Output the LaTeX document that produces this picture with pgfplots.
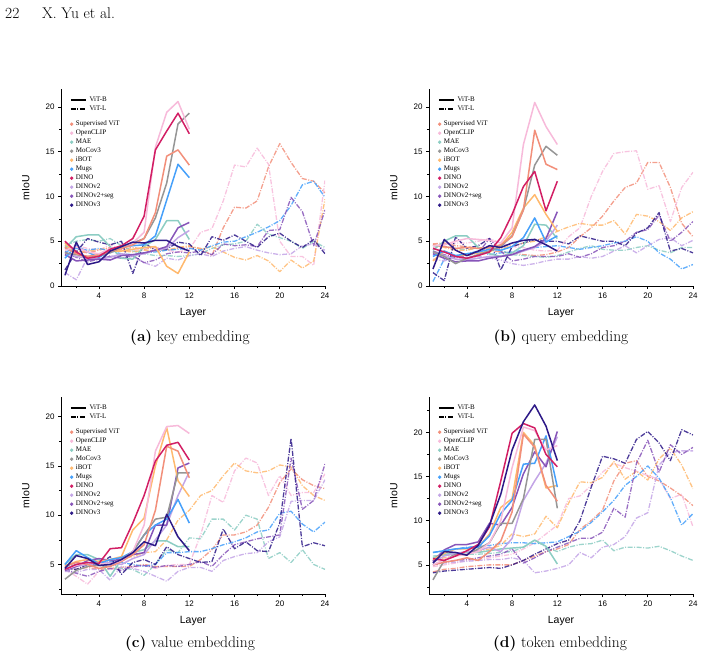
\documentclass[border=0pt]{standalone}
\usepackage{fontspec}
\usepackage{pgfplots}
\usepackage{pgfplotstable}
\pgfplotsset{compat=1.18}
\setsansfont{Liberation Sans}
\newfontfamily\lserif{Liberation Serif}
\newcommand\tickfont{\sffamily\fontsize{8}{9}\selectfont}
\newcommand\labfont{\sffamily\fontsize{10.5}{12}\selectfont}
\newcommand\legfont{\lserif\fontsize{7}{8}\selectfont}

\definecolor{cSup}{RGB}{242,143,122}
\definecolor{cClip}{RGB}{247,186,218}
\definecolor{cMAE}{RGB}{140,205,195}
\definecolor{cMoco}{RGB}{150,150,150}
\definecolor{cIbot}{RGB}{255,185,110}
\definecolor{cMugs}{RGB}{70,160,250}
\definecolor{cDino}{RGB}{210,30,100}
\definecolor{cDvtwo}{RGB}{195,165,230}
\definecolor{cDvtwos}{RGB}{135,85,185}
\definecolor{cDvthree}{RGB}{45,25,135}

% ---------------- (a) key embedding ----------------
\pgfplotstableread{
L sup clip mae moco ibot mugs dino dv2 dv2s dv3
1  4.3  4.0 4.2  3.7 4.8  3.1  5.0 3.6 3.5 1.2
2  3.6  4.4 5.5  3.5 3.6  4.5  3.8 3.3 2.8 4.9
3  3.3  3.8 5.7  3.3 3.2  3.8  3.1 3.1 2.9 2.4
4  3.5  3.6 5.7  3.4 3.4  3.2  3.3 3.0 3.0 2.7
5  3.9  4.2 4.4  3.7 3.9  3.9  4.1 3.2 2.9 3.9
6  4.2  4.4 3.1  4.3 3.9  4.4  4.5 3.6 3.4 4.4
7  4.6  4.8 3.0  4.8 4.1  4.5  5.3 3.4 3.5 4.9
8  5.3  6.0 4.4  5.3 4.3  4.6  7.8 3.6 3.7 4.8
9  8.2 15.5 5.2  7.6 4.4  5.6 15.2 4.0 4.0 5.1
10 14.5 19.4 7.3 11.5 2.2  9.6 17.3 4.2 4.4 5.1
11 15.2 20.6 7.3 18.1 1.4 13.6 19.3 5.4 6.5 4.4
12 13.5 17.5 5.2 19.3 3.8 12.1 17.0 6.2 7.1 3.9
}\keyB
\pgfplotstableread{
L sup clip mae ibot mugs dv2 dv2s dv3
1  4.4  4.2 4.5 4.5 3.8 1.5 3.8 1.8
2  3.9  4.5 5.0 3.8 4.2 0.7 3.2 3.8
3  3.7  4.2 5.2 3.9 4.0 3.2 2.7 5.3
4  4.0  4.0 5.0 4.1 4.2 3.0 3.0 4.9
5  4.3  4.6 5.3 4.2 3.9 3.4 3.3 4.6
6  4.1  4.1 4.5 3.9 3.6 3.1 3.1 5.0
7  4.3  3.9 3.9 3.8 3.5 3.3 3.4 1.4
8  4.1  4.2 3.6 4.0 3.7 2.6 2.6 4.8
9  4.3  4.4 3.4 3.9 3.8 2.2 2.9 4.0
10 4.0  4.0 3.4 4.0 4.0 3.1 3.6 4.1
11 4.2  3.8 3.3 4.3 4.1 2.9 3.8 4.9
12 4.4  4.1 3.4 4.5 4.2 3.4 3.7 4.7
13 4.2  6.0 3.6 4.1 4.0 3.6 3.9 3.4
14 3.4  6.4 4.2 4.4 4.5 3.3 3.5 5.5
15 6.5  9.5 4.6 3.8 4.9 3.9 4.7 5.1
16 8.8 13.5 4.7 3.2 5.0 4.2 4.5 5.7
17 8.7 13.3 5.0 2.9 5.5 4.4 4.6 5.0
18 9.5 15.4 6.9 3.4 6.0 4.0 4.4 4.3
19 13.3 13.6 5.8 2.8 6.6 3.7 6.2 5.5
20 15.9 5.0 5.4 1.6 7.3 3.5 6.3 5.9
21 13.8 3.3 5.0 2.9 9.0 3.6 9.9 5.0
22 12.0 3.3 4.2 2.0 11.3 4.5 8.3 4.3
23 11.7 2.3 5.0 2.8 11.7 4.7 4.5 5.2
24 10.4 11.8 4.3 9.7 9.9 4.0 8.5 3.6
}\keyL

% ---------------- (b) query embedding ----------------
\pgfplotstableread{
L sup clip mae moco ibot mugs dino dv2 dv2s dv3
1  4.6  4.5 4.0  3.8  2.8 3.3  4.2 3.7 3.6 1.9
2  4.4  4.6 5.0  3.3  3.9 3.9  3.8 3.4 3.1 5.2
3  4.2  5.0 5.6  2.5  3.3 3.4  3.3 3.0 2.7 4.0
4  4.3  5.3 5.6  3.1  3.5 3.6  3.1 2.9 2.8 3.4
5  4.2  5.2 4.3  3.5  3.7 3.8  3.4 3.1 2.8 3.9
6  4.3  5.1 3.6  3.9  3.8 4.1  3.8 3.3 3.1 4.5
7  4.6  4.8 3.3  4.4  4.5 4.0  5.4 3.3 3.3 4.3
8  5.5  6.5 3.7  5.6  6.0 4.4  8.0 3.5 3.5 4.8
9  8.5 15.8 4.5  8.5  8.7 5.4 11.1 3.9 4.0 5.1
10 17.4 20.5 6.9 13.5 10.2 7.6 12.8 4.3 4.4 5.2
11 13.6 17.8 6.8 15.6  8.0 4.9  8.4 5.0 5.3 4.6
12 13.0 15.8 5.3 14.6  6.1 5.6 11.7 6.8 8.3 3.9
}\queryB
\pgfplotstableread{
L sup clip mae ibot mugs dv2 dv2s dv3
1  4.7  4.3 4.5 4.6 0.5 3.0 3.9 1.5
2  4.8  4.6 4.4 4.3 3.0 2.8 3.5 0.6
3  4.5  4.8 4.2 4.0 3.3 3.2 3.2 5.5
4  4.4  4.8 4.0 4.0 3.6 3.0 3.4 4.2
5  4.2  5.0 4.3 4.3 3.9 3.3 3.7 4.5
6  4.0  5.3 4.2 4.1 3.5 3.1 5.3 5.3
7  3.8  4.8 4.0 4.2 3.7 2.9 3.9 1.8
8  3.7  4.4 3.5 4.5 3.8 2.5 2.8 4.4
9  3.5  4.3 3.4 4.8 4.0 2.3 3.0 4.8
10 3.4  4.0 3.3 5.0 4.3 2.5 3.3 5.2
11 3.5  3.9 3.2 5.5 4.4 2.8 3.3 5.0
12 3.8  4.0 3.4 6.1 4.5 3.0 3.3 5.0
13 4.3  5.5 3.8 6.6 4.3 3.0 3.6 4.7
14 5.5  6.5 4.2 7.0 4.1 3.3 3.2 5.6
15 6.5 10.0 4.5 6.8 4.3 3.1 3.6 5.3
16 7.8 12.8 4.1 6.8 4.5 3.3 4.3 5.0
17 9.5 14.8 4.0 7.3 4.8 3.9 4.5 5.0
18 11.0 15.0 4.0 5.8 5.0 4.5 5.0 4.5
19 11.5 15.1 4.3 8.0 5.5 3.7 6.0 5.9
20 13.8 10.8 4.5 7.8 5.0 4.5 6.3 6.5
21 13.8 11.2 4.0 7.2 3.7 5.2 7.9 8.2
22 11.0  7.2 3.7 6.2 3.0 5.4 5.0 3.9
23 7.0  11.0 4.3 7.6 1.9 4.5 6.0 4.2
24 5.5  12.7 4.3 8.3 2.4 5.1 7.2 3.7
}\queryL

% ---------------- (c) value embedding ----------------
\pgfplotstableread{
L sup clip mae moco ibot mugs dino dv2 dv2s dv3
1  4.8  4.5 5.0  3.5  4.8  5.0  4.5  4.3  4.4  4.6
2  5.2  4.9 6.0  4.4  5.3  6.4  5.0  4.8  4.8  5.9
3  5.0  5.2 6.0  4.8  5.5  5.7  5.2  5.0  5.4  5.6
4  4.6  5.1 5.5  4.9  5.3  5.1  5.1  5.1  5.6  4.9
5  4.8  5.0 3.8  4.8  5.5  5.5  6.6  5.2  5.4  5.0
6  5.3  5.4 5.5  5.5  5.8  5.7  6.7  5.0  5.5  5.5
7  6.0  6.3 6.2  6.3  8.5  6.3  9.2  5.6  6.0  6.2
8  7.0  9.0 6.5  8.0  9.7  8.0 12.0  6.0  6.2  7.3
9  10.5 16.5 7.4 9.6 15.0  9.0 15.5  7.5  9.0  6.9
10 17.0 19.0 7.4 9.8 18.9  9.6 17.1  9.0  9.0 10.1
11 16.5 19.1 6.8 14.3 13.5 11.6 17.4 12.0 14.8  7.8
12 13.8 18.3 6.8 14.3 11.9  9.2 15.6 14.4 15.3  6.4
}\valueB
\pgfplotstableread{
L sup clip mae ibot mugs dv2 dv2s dv3
1  4.6  4.5 4.6  5.0  4.8  4.3  4.5  4.5
2  4.5  3.8 4.9  4.9  5.0  4.2  4.1  4.5
3  4.7  3.0 5.0  5.0  5.1  4.5  3.8  5.0
4  4.5  4.3 5.1  5.1  5.0  4.5  4.3  5.0
5  4.6  4.5 5.0  5.3  5.3  3.4  4.6  5.8
6  4.7  4.6 4.6  5.6  5.2  4.8  4.4  4.0
7  4.8  4.7 4.5  5.8  5.0  4.6  4.8  5.2
8  5.0  4.9 3.9  6.2  4.8  4.3  4.9  5.5
9  4.8  4.6 5.0  6.3  5.0  3.8  4.7  5.0
10 4.8  4.9 6.5  7.5  6.2  3.3  4.9  6.8
11 4.8  5.0 6.2  9.5  6.2  4.3  4.8  6.0
12 4.8  5.0 7.7 10.5  6.3  4.7  5.0  5.6
13 5.5  8.0 7.6 12.0  6.3  4.7  5.3  5.2
14 6.5 12.0 9.6 12.5  6.6  4.3  4.8  5.3
15 8.0 11.3 9.6 14.0  7.0  5.4  6.0  8.6
16 8.0 14.5 8.5 15.3  7.3  5.8  7.0  6.6
17 8.3 15.8 10.0 14.5 7.7  6.1  7.3  7.3
18 9.0 15.3 9.6 14.3  8.3  6.2  7.6  6.4
19 10.8 12.0 5.6 14.5 8.5  7.3  7.8  6.3
20 13.3 14.0 6.2 15.1 10.2 7.8  8.0  9.2
21 14.7 12.0 5.2 14.9 10.4 11.4 15.8 17.8
22 13.6 12.3 6.5 13.0 9.1 11.5 10.6  6.8
23 13.0 12.3 5.0 12.0 8.3 11.5 11.5  7.2
24 12.7 14.2 4.5 11.5 9.3 13.6 15.2  6.9
}\valueL

% ---------------- (d) token embedding ----------------
\pgfplotstableread{
L sup clip mae moco ibot mugs dino dv2 dv2s dv3
1  5.0  5.0 5.8  3.3  5.6  6.4  5.7  5.3  5.4  5.2
2  5.3  5.6 6.2  5.5  6.3  6.6  5.5  6.0  6.7  6.5
3  5.5  6.0 6.3  6.2  6.8  6.8  6.0  6.3  7.3  6.4
4  5.8  6.2 6.4  6.1  6.8  6.9  6.6  6.5  7.3  6.1
5  5.5  6.5 6.4  6.8  7.0  7.0  7.3  6.6  7.6  7.2
6  6.5  7.5 6.6  7.5  8.5  8.3  9.3  7.0  9.7  9.5
7  7.7 10.0 6.8  9.7 11.5 10.8 14.5  6.5  9.5 13.0
8  11.0 16.0 6.9 9.7 12.5 12.3 19.9  8.0 11.5 18.0
9  19.8 20.6 7.0 12.5 20.0 16.4 21.0 12.3 15.3 21.2
10 18.3 20.2 7.8 19.2 18.5 16.5 20.5 14.5 17.8 23.1
11 14.0 18.0 7.1 19.2 13.7 19.6 17.5 16.5 16.1 20.7
12 12.2 18.5 5.1 11.4 14.0 13.8 16.1 19.5 20.1 16.8
}\tokenB
\pgfplotstableread{
L sup clip mae ibot mugs dv2 dv2s dv3
1  4.2  4.8 6.0  5.5  6.4  5.0  5.0  4.1
2  4.5  5.0 6.1  5.8  6.6  5.2  5.3  4.3
3  4.6  5.2 6.1  6.0  6.8  5.3  5.5  4.4
4  4.8  5.5 6.2  6.2  7.0  5.4  5.6  4.5
5  4.9  5.6 6.2  6.5  7.1  5.5  5.8  4.6
6  5.0  5.8 6.3  6.8  7.2  5.6  6.0  4.7
7  5.0  6.0 6.4  7.2  7.4  5.6  6.2  4.6
8  5.0  6.2 6.5  8.5  7.5  5.8  6.8  5.0
9  5.5  6.8 7.0  8.2  7.5  5.5  5.2  5.5
10 6.0  7.5 7.8  8.5  7.4  4.1  5.8  6.2
11 6.5  8.5 7.0 10.5  7.5  4.3  6.5  6.8
12 6.8  9.5 6.5  9.2  7.6  4.6  7.0  7.4
13 7.3 12.5 7.0 12.0  8.2  5.0  7.5  7.8
14 9.0 12.8 7.3 14.4  8.8  6.4  8.0 10.0
15 10.0 14.0 7.4 14.3 9.8  5.8  8.0 13.8
16 11.2 15.5 7.8 14.9 11.0 7.0  8.7 17.3
17 14.5 16.5 6.6 16.7 12.3 7.3 11.4 17.0
18 16.5 16.0 7.0 14.7 14.0 8.2 10.4 16.5
19 16.8 15.6 7.0 15.6 15.0 10.3 16.5 19.2
20 15.0 15.1 6.9 14.6 16.2 10.9 19.1 20.1
21 14.5 14.7 7.1 17.0 14.8 16.3 15.5 18.8
22 13.7 12.5 6.6 18.2 12.6 17.7 18.6 16.8
23 12.8 13.0 6.0 16.3 9.5 17.9 17.5 20.3
24 11.7  9.3 5.5 13.6 10.8 17.9 18.3 19.7
}\tokenL

\tikzset{
  vitb/.style={line width=1.5pt, line join=round},
  vitl/.style={line width=1.3pt, line join=round, opacity=0.85,
               dash pattern=on 5pt off 1.5pt on 1pt off 1.5pt},
}

\pgfplotsset{
  panel/.style={
    scale only axis, width=264pt, height=197pt,
    anchor=south west,
    xmin=0.65, xmax=24,
    axis x line*=bottom, axis y line*=left,
    axis line style={line width=0.8pt, -},
    tick align=outside,
    major tick length=3pt, minor tick length=2pt,
    every tick/.style={line width=0.6pt, black},
    xtick={4,8,...,24}, minor xtick={2,6,10,14,18,22},
    ytick={0,5,10,15,20}, minor ytick={2.5,7.5,12.5,17.5,22.5},
    /pgf/number format/assume math mode=true,
    tick label style={font=\tickfont},
    xticklabel style={font=\tickfont},
    yticklabel style={font=\tickfont},
    xlabel={Layer}, ylabel={mIoU},
    every axis x label/.style={at={(axis description cs:0.5,-0.137)}, anchor=center, font=\labfont},
    every axis y label/.style={at={(axis description cs:-0.133,0.5)}, anchor=center, rotate=90, font=\labfont},
    legend style={at={(rel axis cs:0.034,0.838)}, anchor=north west,
      draw=none, fill=none, font=\legfont, inner sep=0pt, outer sep=0pt,
      row sep=2.5pt, column sep=2.5pt,
      nodes={inner sep=0pt, text height=5pt, text depth=1.5pt}},
    legend cell align=left,
    legend image code/.code={\fill (1.5pt,0pt) circle (1.5pt);},
  },
  keyleg/.style={
    scale only axis, width=264pt, height=197pt, anchor=south west,
    hide axis, xmin=0, xmax=1, ymin=0, ymax=1,
    legend style={at={(rel axis cs:0.034,0.962)}, anchor=north west,
      draw=none, fill=none, font=\legfont, inner sep=0pt, outer sep=0pt,
      row sep=2.5pt, column sep=3pt,
      nodes={inner sep=0pt, text height=5pt, text depth=1.5pt}},
    legend cell align=left,
    legend image code/.code={\draw[line width=1.6pt] (0pt,0pt) -- (15pt,0pt);},
  },
}

% one panel: ViT-L curves (dash-dot, layers 1-24), ViT-B curves (solid, layers 1-12)
\newcommand\curves[2]{%
  \addplot[vitl, cSup, forget plot]     table[x=L, y=sup]  {#2};
  \addplot[vitl, cClip, forget plot]    table[x=L, y=clip] {#2};
  \addplot[vitl, cMAE, forget plot]     table[x=L, y=mae]  {#2};
  \addplot[vitl, cIbot, forget plot]    table[x=L, y=ibot] {#2};
  \addplot[vitl, cMugs, forget plot]    table[x=L, y=mugs] {#2};
  \addplot[vitl, cDvtwo, forget plot]   table[x=L, y=dv2]  {#2};
  \addplot[vitl, cDvtwos, forget plot]  table[x=L, y=dv2s] {#2};
  \addplot[vitl, cDvthree, forget plot] table[x=L, y=dv3]  {#2};
  \addplot[vitb, cMAE, forget plot]     table[x=L, y=mae]  {#1};
  \addplot[vitb, cDvtwo, forget plot]   table[x=L, y=dv2]  {#1};
  \addplot[vitb, cDvtwos, forget plot]  table[x=L, y=dv2s] {#1};
  \addplot[vitb, cIbot, forget plot]    table[x=L, y=ibot] {#1};
  \addplot[vitb, cMugs, forget plot]    table[x=L, y=mugs] {#1};
  \addplot[vitb, cMoco, forget plot]    table[x=L, y=moco] {#1};
  \addplot[vitb, cSup, forget plot]     table[x=L, y=sup]  {#1};
  \addplot[vitb, cClip, forget plot]    table[x=L, y=clip] {#1};
  \addplot[vitb, cDino, forget plot]    table[x=L, y=dino] {#1};
  \addplot[vitb, cDvthree, forget plot] table[x=L, y=dv3]  {#1};
  \addlegendimage{cSup}     \addlegendentry{Supervised ViT}
  \addlegendimage{cClip}    \addlegendentry{OpenCLIP}
  \addlegendimage{cMAE}     \addlegendentry{MAE}
  \addlegendimage{cMoco}    \addlegendentry{MoCov3}
  \addlegendimage{cIbot}    \addlegendentry{iBOT}
  \addlegendimage{cMugs}    \addlegendentry{Mugs}
  \addlegendimage{cDino}    \addlegendentry{DINO}
  \addlegendimage{cDvtwo}   \addlegendentry{DINOv2}
  \addlegendimage{cDvtwos}  \addlegendentry{DINOv2+seg}
  \addlegendimage{cDvthree} \addlegendentry{DINOv3}
}

\newcommand\sizelegend[1]{%
  \begin{axis}[keyleg, at={#1}]
    \addlegendimage{black}
    \addlegendentry{ViT-B}
    \addlegendimage{black, dash pattern=on 5pt off 1.5pt on 1pt off 1.5pt}
    \addlegendentry{ViT-L}
  \end{axis}%
}

\begin{document}
\begin{tikzpicture}
\useasboundingbox (0pt,0pt) rectangle (705pt,-661pt);

\begin{scope}[font=\rmfamily\fontsize{15.5}{18}\selectfont]
  \node[anchor=base west, inner sep=0pt] at (5pt,-19pt) {22};
  \node[anchor=base west, inner sep=0pt] at (42pt,-19pt) {X. Yu et al.};
  \node[anchor=base, inner sep=0pt] at (190pt,-341pt) {\textbf{(a)} key embedding};
  \node[anchor=base, inner sep=0pt] at (561pt,-341pt) {\textbf{(b)} query embedding};
  \node[anchor=base, inner sep=0pt] at (190pt,-647pt) {\textbf{(c)} value embedding};
  \node[anchor=base, inner sep=0pt] at (560pt,-647pt) {\textbf{(d)} token embedding};
\end{scope}

\begin{axis}[panel, at={(61pt,-286pt)}, ymin=0, ymax=22]
  \curves{\keyB}{\keyL}
\end{axis}
\sizelegend{(61pt,-286pt)}

\begin{axis}[panel, at={(429pt,-286pt)}, ymin=0, ymax=22]
  \curves{\queryB}{\queryL}
\end{axis}
\sizelegend{(429pt,-286pt)}

\begin{axis}[panel, at={(61pt,-594pt)}, ymin=2, ymax=22]
  \curves{\valueB}{\valueL}
\end{axis}
\sizelegend{(61pt,-594pt)}

\begin{axis}[panel, at={(429pt,-594pt)}, ymin=1.7, ymax=24]
  \curves{\tokenB}{\tokenL}
\end{axis}
\sizelegend{(429pt,-594pt)}

\end{tikzpicture}
\end{document}
